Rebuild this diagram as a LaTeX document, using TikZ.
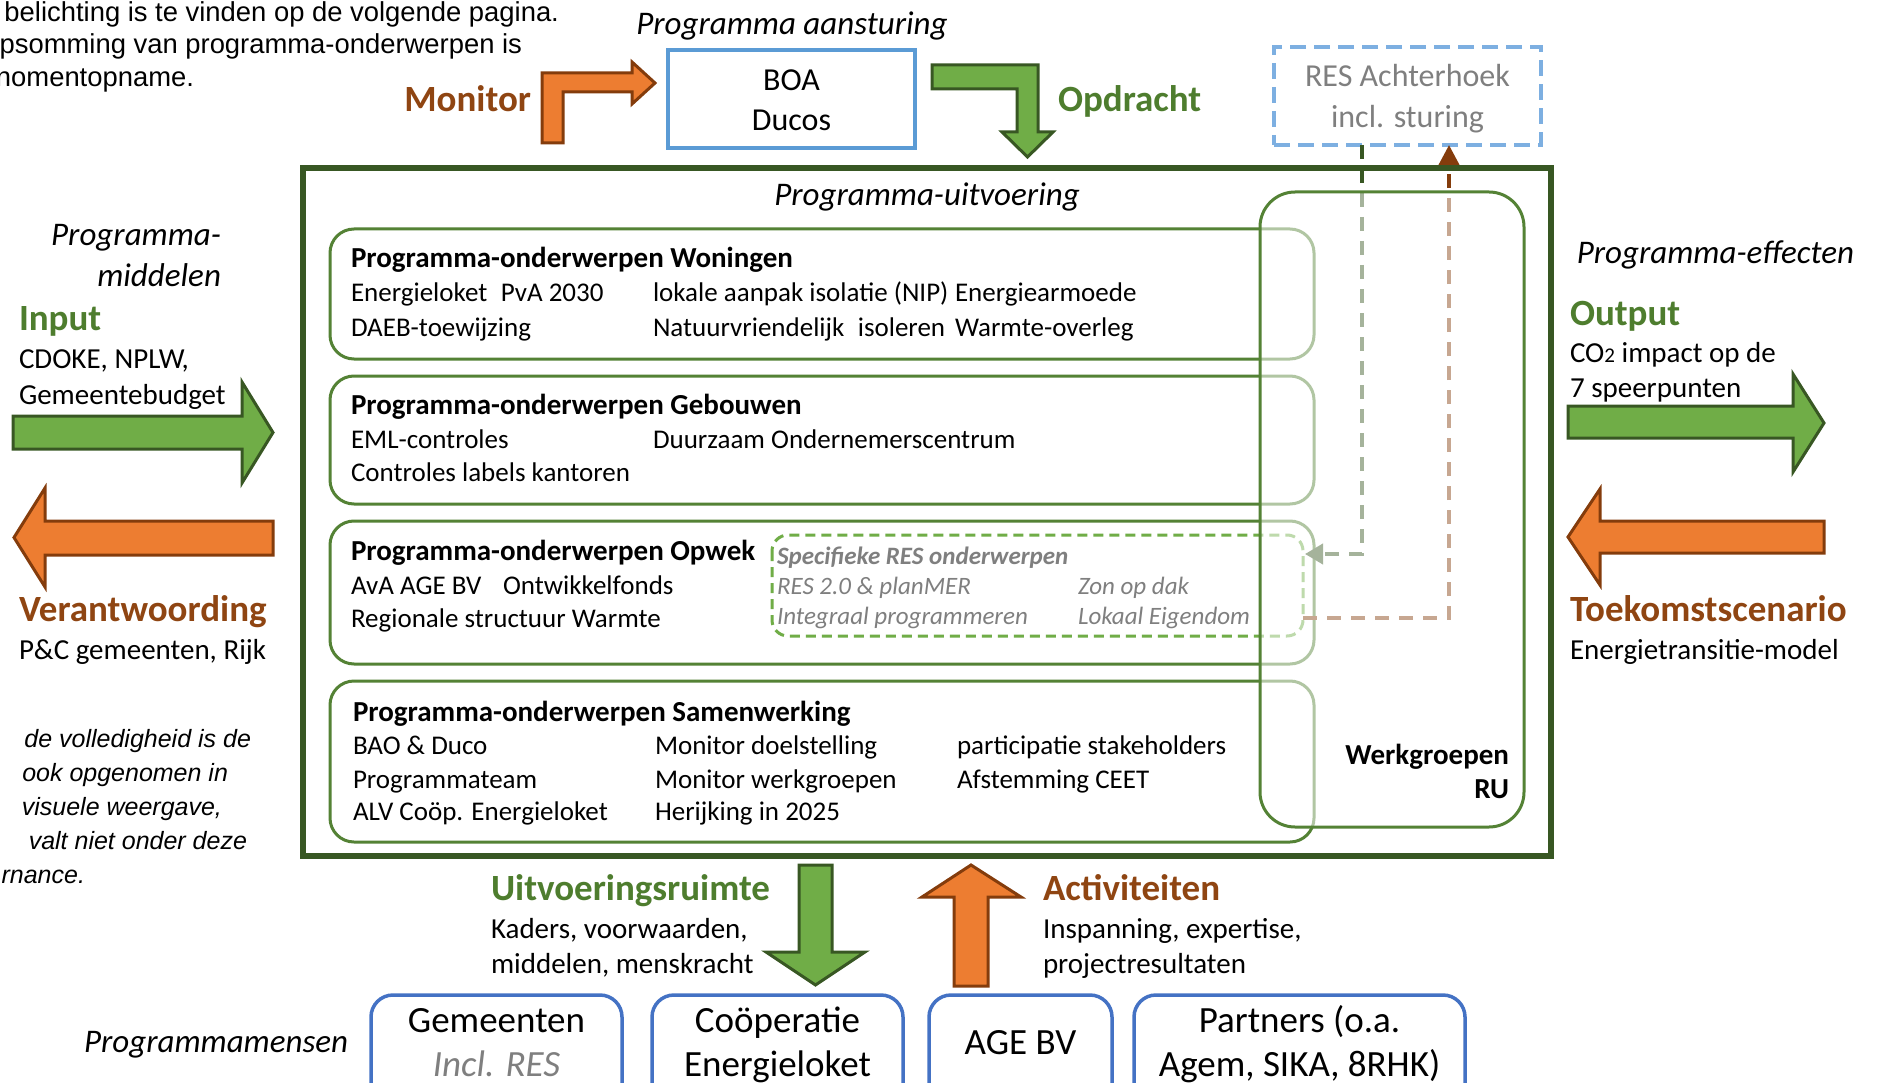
\documentclass[tikz,border=0pt]{standalone}
\usepackage{fontspec}
\setmainfont{Carlito}
\newfontfamily\arialfont{Liberation Sans}
\usetikzlibrary{arrows.meta}
\definecolor{dgreen}{HTML}{385723}
\definecolor{mgreen}{HTML}{548235}
\definecolor{lgreen}{HTML}{70AD47}
\definecolor{orng}{HTML}{ED7D31}
\definecolor{dbrown}{HTML}{843C0C}
\definecolor{tbrown}{HTML}{8F4512}
\definecolor{tgreen}{HTML}{4E7D2E}
\definecolor{bblue}{HTML}{5B9BD5}
\definecolor{dblue}{HTML}{4472C4}
\definecolor{lblue}{HTML}{7DAFE1}
\definecolor{gtext}{HTML}{7F7F7F}
\newcommand\fHead{\fontsize{37}{44}\selectfont\bfseries}
\newcommand\fSide{\fontsize{29}{35}\selectfont}
\newcommand\fIt{\fontsize{33}{40}\selectfont\itshape}
\newcommand\fRow{\fontsize{27}{33}\selectfont}
\newcommand\fSub{\fontsize{29}{35}\selectfont\bfseries}
\newcommand\fRes{\fontsize{25}{30}\selectfont\itshape}
\newcommand\fBox{\fontsize{32}{41}\selectfont}
\newcommand\fPeople{\fontsize{37}{44}\selectfont}
\newcommand\fNote{\arialfont\fontsize{27.4}{32}\selectfont}
\newcommand\fNoteIt{\arialfont\fontsize{25}{32}\selectfont\itshape}
\tikzset{
 t/.style={inner sep=0pt, outer sep=0pt, anchor=base west},
 tr/.style={inner sep=0pt, outer sep=0pt, anchor=base east},
 tc/.style={inner sep=0pt, outer sep=0pt, anchor=base},
 subj/.style={draw=mgreen, line width=3pt, rounded corners=24pt},
 arrG/.style={fill=lgreen, draw=dgreen, line width=3pt, line join=miter},
 arrO/.style={fill=orng, draw=dbrown, line width=3pt, line join=miter},
 pbox/.style={draw=dblue, line width=3.5pt, rounded corners=22pt, minimum height=130pt, inner sep=0pt},
 conn/.style={line width=4pt, dash pattern=on 14pt off 10pt},
}
\begin{document}
\begin{tikzpicture}[x=1pt,y=-1pt]
\useasboundingbox (0,0) rectangle (1878,1083);
\clip (0,0) rectangle (1878,1083);

% top-left note
\node[tr, font=\fNote] (n1) at (559,22) {belichting is te vinden op de volgende pagina.};
\node[tr, font=\fNote] (n2) at (522,54) {psomming van programma-onderwerpen is};
\node[tr, font=\fNote] (n3) at (194,87) {nomentopname.};

% programma aansturing
\node[tc, font=\fIt] (pa) at (792,35) {Programma aansturing};
\node[draw=bblue, line width=4.5pt, minimum width=247pt, minimum height=98pt, inner sep=0pt, align=center, font=\fBox] (boa) at (791.5,99) {};
\node[tc, font=\fBox] (boa1) at (791.5,91) {BOA};
\node[tc, font=\fBox] (boa2) at (791.5,131) {Ducos};
\node[draw=lblue, line width=4pt, dash pattern=on 16pt off 8pt, minimum width=267pt, minimum height=98pt, inner sep=0pt] (res) at (1407.5,96) {};
\node[tc, font=\fBox, text=gtext] (res1) at (1407.5,87) {RES Achterhoek};
\node[tc, font=\fBox, text=gtext] (res2) at (1407.5,128) {incl. sturing};

% monitor bent arrow
\draw[arrO] (542,143) -- (542,73) -- (632,73) -- (632,62) -- (655,83) -- (632,104) -- (632,92) -- (563,92) -- (563,143) -- cycle;
\node[tr, font=\fHead, text=tbrown] (mon) at (531,112) {Monitor};
% opdracht bent arrow
\draw[arrG] (932,65) -- (1038,65) -- (1038,132) -- (1053,132) -- (1027.5,157) -- (1002,132) -- (1017,132) -- (1017,89) -- (932,89) -- cycle;
\node[t, font=\fHead, text=tgreen] (opd) at (1058,112) {Opdracht};

% main box
\node[draw=dgreen, line width=6pt, fill=white, minimum width=1248pt, minimum height=688pt, inner sep=0pt] (main) at (927,512) {};
\node[tc, font=\fIt] (pu) at (927,206) {Programma-uitvoering};

% subject boxes
\draw[subj] (330,229) rectangle (1314,359);
\draw[subj] (330,376) rectangle (1314,504);
\draw[subj] (330,521) rectangle (1314,664);
\draw[subj] (330,681) rectangle (1314,842);
\draw[lgreen, line width=3pt, dash pattern=on 10pt off 6pt, rounded corners=16pt] (772,535) rectangle (1303,636);

% Woningen
\node[t, font=\fSub] (w0) at (351,268) {Programma-onderwerpen Woningen};
\node[t, font=\fRow] (w1) at (351,301) {Energieloket\enspace PvA 2030};
\node[t, font=\fRow] (w2) at (653,301) {lokale aanpak isolatie (NIP)};
\node[t, font=\fRow] (w3) at (955,301) {Energiearmoede};
\node[t, font=\fRow] (w4) at (351,336) {DAEB-toewijzing};
\node[t, font=\fRow] (w5) at (653,336) {Natuurvriendelijk\enspace isoleren};
\node[t, font=\fRow] (w6) at (955,336) {Warmte-overleg};
% Gebouwen
\node[t, font=\fSub] (g0) at (351,414) {Programma-onderwerpen Gebouwen};
\node[t, font=\fRow] (g1) at (351,448) {EML-controles};
\node[t, font=\fRow] (g2) at (653,448) {Duurzaam Ondernemerscentrum};
\node[t, font=\fRow] (g3) at (351,481) {Controles labels kantoren};
% Opwek
\node[t, font=\fSub] (o0) at (351,560) {Programma-onderwerpen Opwek};
\node[t, font=\fRow] (o1) at (351,594) {AvA AGE BV};
\node[t, font=\fRow] (o2) at (503,594) {Ontwikkelfonds};
\node[t, font=\fRow] (o3) at (351,627) {Regionale structuur Warmte};
\node[t, font=\fRes\bfseries, text=gtext] (r0) at (777,564) {Specifieke RES onderwerpen};
\node[t, font=\fRes, text=gtext] (r1) at (777,594) {RES 2.0 \& planMER};
\node[t, font=\fRes, text=gtext] (r2) at (1078,594) {Zon op dak};
\node[t, font=\fRes, text=gtext] (r3) at (777,624) {Integraal programmeren};
\node[t, font=\fRes, text=gtext] (r4) at (1078,624) {Lokaal Eigendom};
% Samenwerking
\node[t, font=\fSub] (s0) at (353,721) {Programma-onderwerpen Samenwerking};
\node[t, font=\fRow] (s1) at (353,754) {BAO \& Duco};
\node[t, font=\fRow] (s2) at (655,754) {Monitor doelstelling};
\node[t, font=\fRow] (s3) at (957,754) {participatie stakeholders};
\node[t, font=\fRow] (s4) at (353,788) {Programmateam};
\node[t, font=\fRow] (s5) at (655,788) {Monitor werkgroepen};
\node[t, font=\fRow] (s6) at (957,788) {Afstemming CEET};
\node[t, font=\fRow] (s7) at (353,820) {ALV Coöp. Energieloket};
\node[t, font=\fRow] (s8) at (655,820) {Herijking in 2025};

% connectors
\coordinate (gA) at (1362,145);
\coordinate (gB) at (1305,554);
\coordinate (bA) at (1303,618);
\coordinate (bB) at (1449,145);
\draw[conn, dgreen, -{Triangle[length=18pt,width=20pt]}] (gA) |- (gB);
\draw[conn, dbrown, -{Triangle[length=20pt,width=20pt]}] (bA) -| (bB);

% werkgroepen overlay
\fill[white, fill opacity=0.55, rounded corners=35pt] (1260,192) rectangle (1524,827);
\draw[mgreen, line width=3pt, rounded corners=35pt] (1260,192) rectangle (1524,827);
\node[tr, font=\fSub] (wg1) at (1509,764) {Werkgroepen};
\node[tr, font=\fSub] (wg2) at (1509,798) {RU};

% left side
\node[tr, font=\fIt] (pm1) at (221,246) {Programma-};
\node[tr, font=\fIt] (pm2) at (221,286) {middelen};
\node[t, font=\fHead, text=tgreen] (inp) at (19,330) {Input};
\node[t, font=\fSide] (inp1) at (19,368) {CDOKE, NPLW,};
\node[t, font=\fSide] (inp2) at (19,404) {Gemeentebudget};
\draw[arrG] (13,416) -- (242,416) -- (242,382) -- (273,432.5) -- (242,483) -- (242,449) -- (13,449) -- cycle;
\draw[arrO] (273,521) -- (45,521) -- (45,488) -- (14,537.5) -- (45,587) -- (45,555) -- (273,555) -- cycle;
\node[t, font=\fHead, text=tbrown] (ver) at (19,621) {Verantwoording};
\node[t, font=\fSide] (ver1) at (19,659) {P\&C gemeenten, Rijk};
\node[tr, font=\fNoteIt] (b1) at (251,747) {de volledigheid is de};
\node[tr, font=\fNoteIt] (b2) at (228,781) {ook opgenomen in};
\node[tr, font=\fNoteIt] (b3) at (222,815) {visuele weergave,};
\node[tr, font=\fNoteIt] (b4) at (247,849) {valt niet onder deze};
\node[tr, font=\fNoteIt] (b5) at (85,883) {rnance.};

% right side
\node[tr, font=\fIt] (pe) at (1854,264) {Programma-effecten};
\node[t, font=\fHead, text=tgreen] (out) at (1570,325) {Output};
\node[t, font=\fSide] (out1) at (1570,362) {CO{\fontsize{21}{21}\selectfont 2} impact op de};
\node[t, font=\fSide] (out2) at (1570,397) {7 speerpunten};
\draw[arrG] (1568,406) -- (1793,406) -- (1793,374) -- (1824,423) -- (1793,472) -- (1793,438) -- (1568,438) -- cycle;
\draw[arrO] (1824,521) -- (1600,521) -- (1600,489) -- (1568,537) -- (1600,585) -- (1600,553) -- (1824,553) -- cycle;
\node[t, font=\fHead, text=tbrown] (toe) at (1570,621) {Toekomstscenario};
\node[t, font=\fSide] (toe1) at (1570,659) {Energietransitie-model};

% bottom
\draw[arrG] (799,865) -- (832,865) -- (832,952) -- (865,952) -- (815.5,985) -- (766,952) -- (799,952) -- cycle;
\draw[arrO] (954,986) -- (954,897) -- (922,897) -- (971,865) -- (1021,897) -- (988,897) -- (988,986) -- cycle;
\node[t, font=\fHead, text=tgreen] (uit) at (491,900) {Uitvoeringsruimte};
\node[t, font=\fSide] (uit1) at (491,938) {Kaders, voorwaarden,};
\node[t, font=\fSide] (uit2) at (491,973) {middelen, menskracht};
\node[t, font=\fHead, text=tbrown] (act) at (1043,900) {Activiteiten};
\node[t, font=\fSide] (act1) at (1043,938) {Inspanning, expertise,};
\node[t, font=\fSide] (act2) at (1043,973) {projectresultaten};
\node[t, font=\fIt] (pmens) at (84,1052) {Programmamensen};

\node[pbox, minimum width=251pt] (gem) at (496.5,1060) {};
\node[pbox, minimum width=251pt] (coop) at (777.5,1060) {};
\node[pbox, minimum width=183pt] (age) at (1020.5,1060) {};
\node[pbox, minimum width=331pt] (part) at (1299.5,1060) {};
\node[tc, font=\fPeople] (gem1) at (496.5,1032) {Gemeenten};
\node[tc, font=\fPeople\itshape, text=gtext] (gem2) at (496.5,1076) {Incl. RES};
\node[tc, font=\fPeople] (coop1) at (777.5,1032) {Coöperatie};
\node[tc, font=\fPeople] (coop2) at (777.5,1076) {Energieloket};
\node[tc, font=\fPeople] (age1) at (1020.5,1054) {AGE BV};
\node[tc, font=\fPeople] (part1) at (1299.5,1032) {Partners (o.a.};
\node[tc, font=\fPeople] (part2) at (1299.5,1076) {Agem, SIKA, 8RHK)};
\end{tikzpicture}
\end{document}
